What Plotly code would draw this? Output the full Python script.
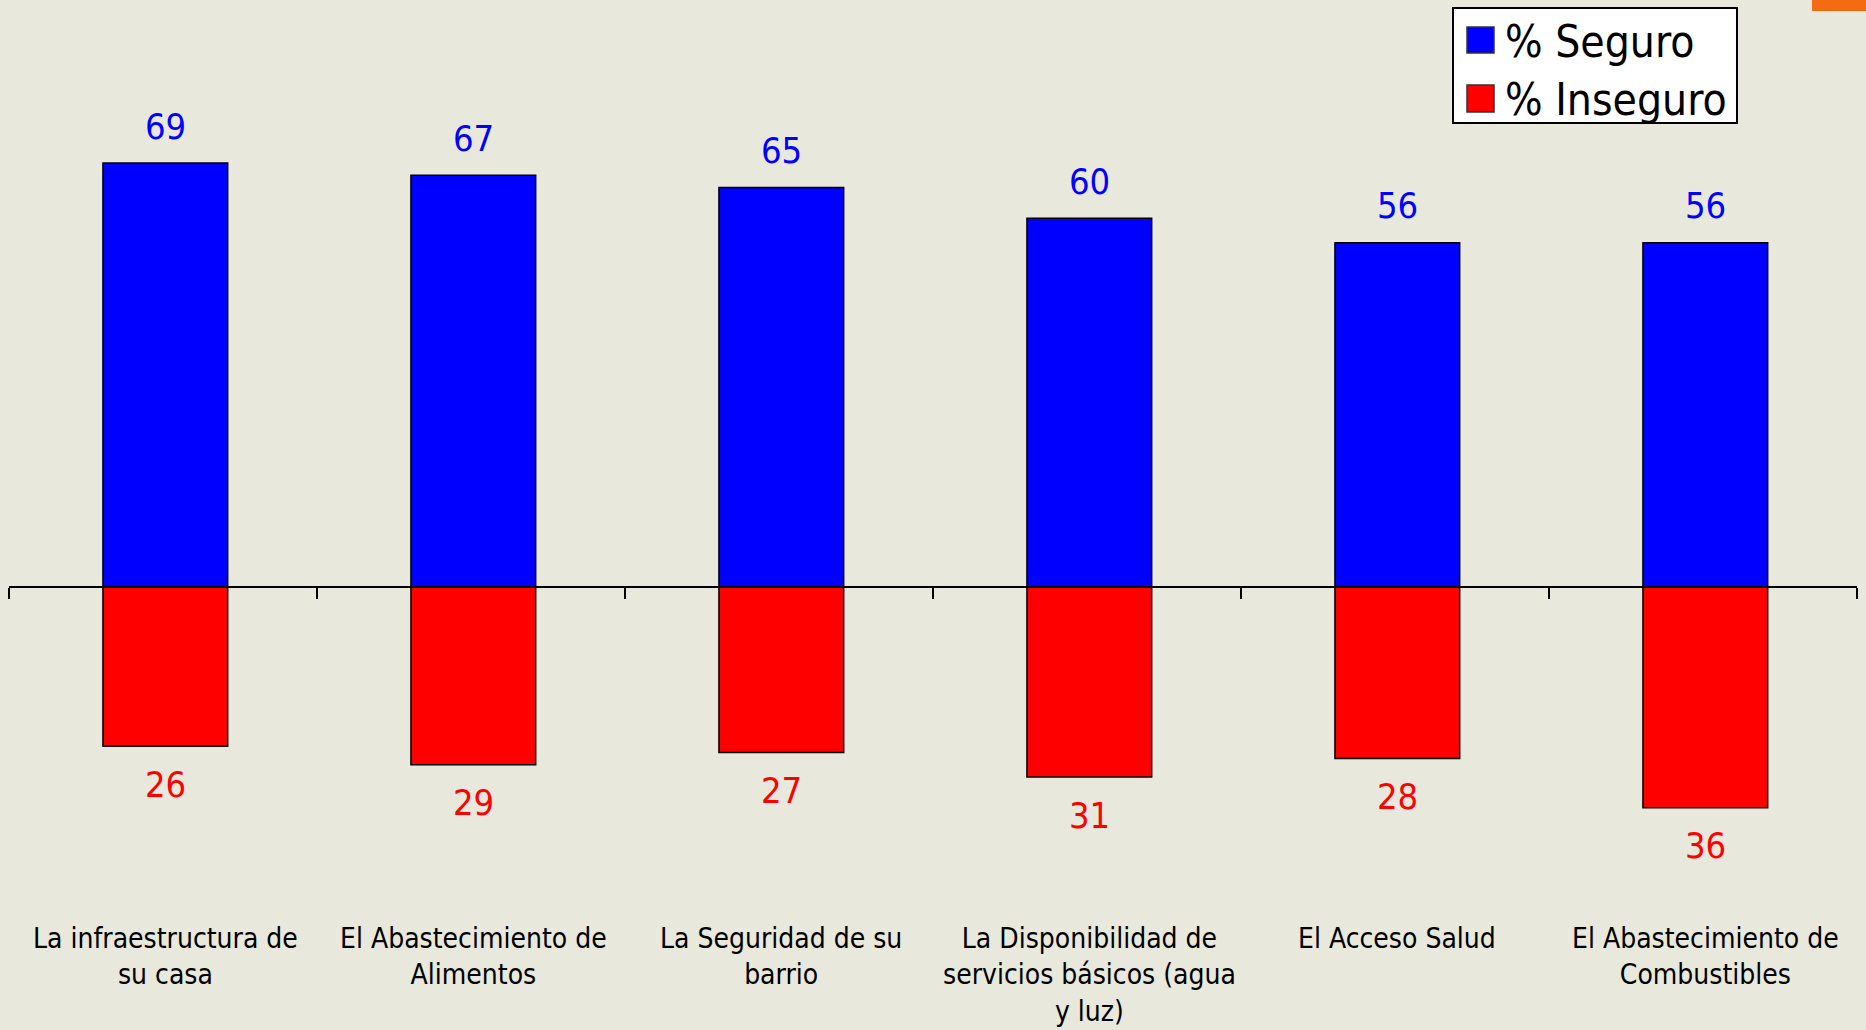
import plotly.graph_objects as go

categories = [
    "La infraestructura de<br>su casa",
    "El Abastecimiento de<br>Alimentos",
    "La Seguridad de su<br>barrio",
    "La Disponibilidad de<br>servicios básicos (agua<br>y luz)",
    "El Acceso Salud",
    "El Abastecimiento de<br>Combustibles",
]
seguro = [69, 67, 65, 60, 56, 56]
inseguro = [26, 29, 27, 31, 28, 36]
series_names = ["% Seguro", "% Inseguro"]

FONT = "DejaVu Sans Condensed, DejaVu Sans, sans-serif"
BG = "#E9E8DC"
BLUE = "#0000FF"
RED = "#FF0000"
W, H = 1866, 1030
ML, MR = 9, 9
PW = W - ML - MR

x = list(range(len(categories)))
y_range = [-72.2, 95.55]

fig = go.Figure()
fig.add_trace(go.Bar(x=x, y=seguro, name=series_names[0], width=0.405, offset=-0.195,
                     showlegend=False,
                     marker=dict(color=BLUE, line=dict(color="black", width=1.5))))
fig.add_trace(go.Bar(x=x, y=[-v for v in inseguro], name=series_names[1], width=0.405,
                     offset=-0.195, showlegend=False,
                     marker=dict(color=RED, line=dict(color="black", width=1.5))))

annotations = []
for i, v in enumerate(seguro):
    annotations.append(dict(x=i + 0.0075, y=v, xref="x", yref="y", text=str(v), showarrow=False,
                            yanchor="middle", yshift=37,
                            font=dict(family=FONT, size=36, color=BLUE)))
for i, v in enumerate(inseguro):
    annotations.append(dict(x=i + 0.0075, y=-v, xref="x", yref="y", text=str(v), showarrow=False,
                            yanchor="middle", yshift=-38,
                            font=dict(family=FONT, size=36, color=RED)))
for i, c in enumerate(categories):
    annotations.append(dict(x=i + 0.0075, y=-54.3, xref="x", yref="y", text=c, showarrow=False,
                            yanchor="top", align="center",
                            font=dict(family=FONT, size=28, color="black")))


def px(xp):
    return (xp - ML) / PW


def py(yp):
    return 1 - yp / H


# hand-drawn legend (box, swatches, labels)
shapes = [
    dict(type="rect", xref="paper", yref="paper", x0=px(1453), x1=px(1737), y0=py(123), y1=py(8),
         fillcolor="white", line=dict(color="black", width=2), layer="above"),
]
legend_rows = [(series_names[0], BLUE, 27, 53), (series_names[1], RED, 85, 112)]
for name, col, t, b in legend_rows:
    shapes.append(dict(type="rect", xref="paper", yref="paper", x0=px(1467), x1=px(1494),
                       y0=py(b), y1=py(t), fillcolor=col,
                       line=dict(color="#333333", width=1.5), layer="above"))
    annotations.append(dict(x=px(1503), y=py((t + b) / 2 + 1), xref="paper", yref="paper",
                            text=name, showarrow=False, xanchor="left", yanchor="middle",
                            font=dict(family=FONT, size=44, color="black")))
# slide-number tab
shapes.append(dict(type="rect", xref="paper", yref="paper", x0=px(1812), x1=px(1870),
                   y0=py(11), y1=py(-2), fillcolor="#F46B12", line=dict(width=0), layer="above"))

zero_pos = -y_range[0] / (y_range[1] - y_range[0])

fig.update_layout(
    width=W, height=H,
    margin=dict(l=ML, r=MR, t=0, b=0),
    paper_bgcolor=BG, plot_bgcolor=BG,
    barmode="relative",
    showlegend=False,
    xaxis=dict(range=[-0.5, len(categories) - 0.5], anchor="free", position=zero_pos,
               showline=True, linecolor="black", linewidth=2,
               tickmode="array", tickvals=[i - 0.5 for i in range(len(categories) + 1)],
               ticks="outside", ticklen=11, tickwidth=2, tickcolor="black",
               showticklabels=False, showgrid=False, zeroline=False),
    yaxis=dict(range=y_range, visible=False, showgrid=False, zeroline=False),
    annotations=annotations,
    shapes=shapes,
)

fig.write_html("out.html", config={"displayModeBar": False},
               post_script="document.body.style.margin='0';document.body.style.overflow='hidden';")
